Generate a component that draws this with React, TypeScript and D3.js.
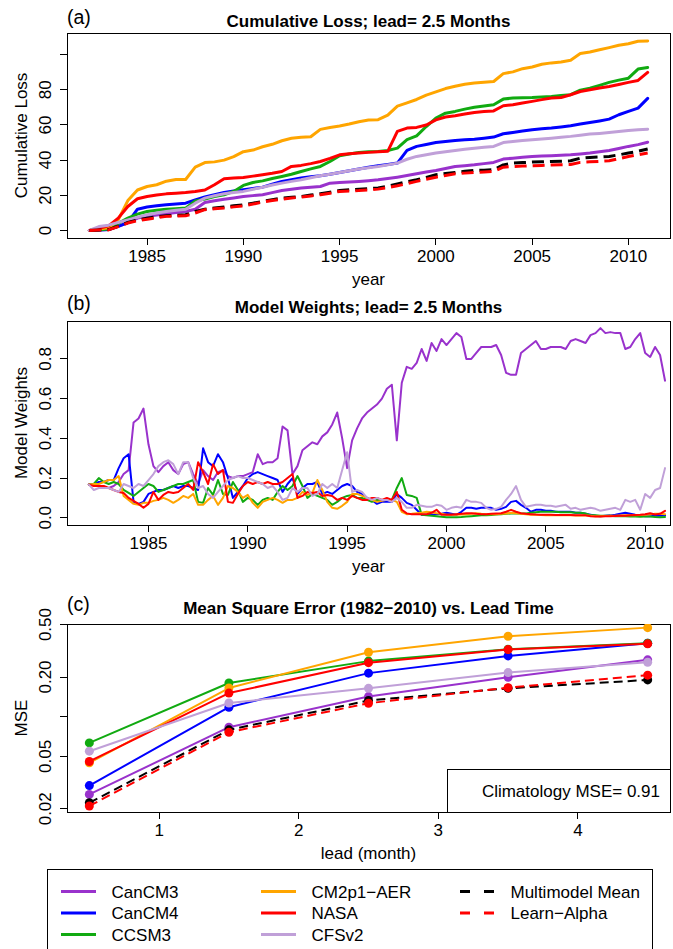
import React, { useEffect, useRef } from "react";
import * as d3 from "d3";

// series names, in legend order
const seriesNames = ["CanCM3", "CanCM4", "CCSM3", "CM2p1\u2212AER", "NASA", "CFSv2", "Multimodel Mean", "Learn\u2212Alpha"];
const seriesColors = ["#9932cc", "#0000ff", "#11aa11", "#ffa500", "#ff0000", "#c0a0d8", "#000000", "#ff0000"];
const seriesDashed = [false, false, false, false, false, false, true, true];

// (a) cumulative loss, sampled every half year 1982.0 .. 2011.0
const lossYears = d3.range(1982, 2011.001, 0.5);
const lossCanCM3 = [
  0, 0.3, 0.5, 2.3, 4.5, 7, 8, 8.8, 9.5, 10.2,
  10.8, 12.1, 15.9, 16.9, 17.8, 18.5, 19.3, 19.8, 20.3, 21.5,
  22.7, 23.4, 24.1, 24.6, 25, 26.9, 27.3, 27.6, 27.9, 28.3,
  28.8, 29.5, 30.3, 31.2, 32.2, 33.2, 34.1, 35.2, 36.4, 36.8,
  37.3, 38, 38.7, 40.6, 41.1, 41.6, 42.1, 42.3, 42.5, 42.7,
  43, 43.5, 44, 44.7, 45.5, 46.6, 47.8, 48.8, 50.2,
];
const lossCanCM4 = [
  0, 0.3, 0.5, 2.3, 4.5, 12.1, 13.3, 14, 14.6, 15,
  15.5, 17.4, 19, 20.3, 21.6, 22.4, 23.1, 23.9, 24.6, 26.3,
  27.9, 28.9, 29.8, 30.5, 31.1, 32, 33, 34, 34.9, 35.9,
  36.8, 37.5, 38.3, 45.5, 47.8, 48.9, 50, 50.6, 51.2, 51.6,
  51.9, 52.5, 53.1, 55, 55.7, 56.5, 57.3, 57.8, 58.2, 58.8,
  59.5, 60.5, 61.4, 62.3, 63.3, 65.8, 67.7, 69.6, 75.1,
];
const lossCCSM3 = [
  0, 0.4, 0.8, 4, 7, 9.3, 10.8, 11.5, 12.1, 12.4,
  12.7, 16.8, 17.8, 19.3, 20.3, 22.2, 25.6, 27.3, 28.2, 29.5,
  30.7, 32, 33.5, 35, 36.4, 39.2, 42.5, 43.5, 44.4, 44.7,
  44.9, 45.5, 46.8, 51.6, 53.8, 59.1, 63.9, 66.7, 67.7, 69,
  70.1, 70.8, 71.5, 74.7, 75.3, 75.5, 75.6, 75.9, 76.2, 76.7,
  77.2, 79.8, 80.9, 82.5, 84.2, 85.5, 86.6, 91.8, 92.7,
];
const lossCM2p1 = [
  0, 0.8, 1.5, 6, 17, 23, 25, 26, 28, 29,
  29, 36, 38.6, 39, 40, 42, 44.8, 45.7, 47.6, 49,
  51, 52.4, 53, 53.3, 57.5, 58.6, 59.4, 60.5, 61.8, 62.8,
  63, 65.6, 70.7, 72.6, 74.5, 77, 78.8, 80.7, 82, 83.2,
  83.9, 84.3, 84.7, 89.2, 90.2, 92, 93, 94.5, 95.3, 95.8,
  96.8, 100.6, 101.5, 102.8, 104, 105.3, 106.2, 107.6, 107.8,
];
const lossNASA = [
  0, 1.2, 2.6, 7, 13.6, 18, 19.3, 20.2, 20.8, 21.2,
  21.6, 22.2, 23, 26, 29.4, 29.8, 30.1, 30.9, 31.7, 32.5,
  33.5, 36.4, 37, 38, 39.2, 41, 43, 43.6, 44, 44.4,
  44.7, 45, 56.3, 58.2, 58.6, 60, 62.9, 64.5, 65.2, 66.2,
  67.1, 67.6, 68, 70.9, 71.5, 72.5, 73.4, 74.4, 75.3, 75.6,
  77.2, 79, 80, 81, 81.9, 83, 84.2, 85.3, 89.9,
];
const lossCFSv2 = [
  0, 2.2, 3, 4.5, 6, 7.5, 8.9, 9.9, 10.8, 11.5,
  12.1, 15.5, 18.4, 19.7, 20.9, 21.6, 22.2, 23.4, 24.6, 25.8,
  26.9, 27.9, 28.8, 30, 31.1, 32, 33, 34, 34.9, 35.7,
  36.4, 37.3, 38.3, 40.5, 42.1, 43, 44, 44.8, 45.5, 46.2,
  46.8, 47.3, 47.8, 50, 50.6, 51.1, 51.6, 52, 52.5, 53,
  53.5, 54.2, 54.8, 55.2, 55.7, 56.3, 56.9, 57.3, 57.6,
];
const lossMean = [
  0, 0.3, 0.5, 2.5, 4.5, 6, 7, 7.7, 8.3, 8.6,
  8.9, 10.8, 12.1, 12.7, 13.3, 14, 14.6, 15.5, 16.5, 17.5,
  18.4, 18.9, 19.3, 20.1, 20.9, 21.8, 22.7, 23.1, 23.5, 23.8,
  24.1, 25.2, 26.5, 27.7, 28.8, 30.2, 31.7, 32.4, 33, 33.6,
  34.1, 34.3, 34.5, 37.3, 38.3, 38.6, 38.9, 39, 39.2, 39.4,
  39.6, 41.1, 41.5, 41.8, 42.1, 43, 44, 45, 46.3,
];
const lossLearnAlpha = [
  0, 0.2, 0.3, 2.2, 4.2, 5.5, 6.4, 7.2, 8, 8.2,
  8.3, 9.9, 11.8, 12.3, 12.7, 13.4, 14, 15, 16.1, 17,
  17.8, 18.4, 19, 19.6, 20.3, 21.2, 22.2, 22.5, 22.7, 23.1,
  23.5, 24.4, 25.4, 26.6, 27.9, 29.1, 30.3, 31.2, 32.2, 32.6,
  33, 33.3, 33.6, 36, 36.4, 36.6, 36.8, 37, 37.2, 37.4,
  37.5, 38.7, 39, 39.3, 39.6, 40.8, 42.1, 43, 44,
];

// (b) model weights, sampled every quarter 1982.0 .. 2011.0
const weightYears = d3.range(1982, 2011.001, 0.25);
const weightCanCM3 = [
  0.167, 0.165, 0.16, 0.15, 0.15, 0.16, 0.18, 0.22,
  0.24, 0.48, 0.50, 0.55, 0.37, 0.26, 0.23, 0.26,
  0.28, 0.24, 0.22, 0.27, 0.28, 0.22, 0.17, 0.24,
  0.21, 0.19, 0.23, 0.24, 0.21, 0.20, 0.21, 0.21,
  0.22, 0.23, 0.32, 0.27, 0.28, 0.28, 0.30, 0.46,
  0.44, 0.22, 0.26, 0.34, 0.36, 0.38, 0.37, 0.41,
  0.43, 0.47, 0.53, 0.40, 0.25, 0.39, 0.45, 0.50,
  0.53, 0.55, 0.57, 0.60, 0.65, 0.67, 0.39, 0.68,
  0.76, 0.75, 0.78, 0.85, 0.79, 0.88, 0.84, 0.90,
  0.87, 0.90, 0.93, 0.91, 0.80, 0.80, 0.83, 0.86,
  0.86, 0.86, 0.87, 0.82, 0.73, 0.72, 0.72, 0.83,
  0.85, 0.87, 0.89, 0.85, 0.85, 0.86, 0.86, 0.86,
  0.85, 0.89, 0.90, 0.89, 0.88, 0.92, 0.93, 0.955,
  0.93, 0.935, 0.93, 0.93, 0.85, 0.86, 0.90, 0.93,
  0.83, 0.81, 0.86, 0.82, 0.69,
];
const weightCanCM4 = [
  0.167, 0.17, 0.18, 0.18, 0.19, 0.19, 0.25, 0.30,
  0.32, 0.08, 0.07, 0.08, 0.12, 0.13, 0.14, 0.14,
  0.15, 0.16, 0.15, 0.16, 0.16, 0.15, 0.14, 0.35,
  0.28, 0.26, 0.32, 0.28, 0.20, 0.10, 0.13, 0.16,
  0.20, 0.22, 0.23, 0.22, 0.21, 0.20, 0.19, 0.13,
  0.17, 0.20, 0.12, 0.15, 0.17, 0.17, 0.18, 0.12,
  0.13, 0.12, 0.14, 0.16, 0.17, 0.16, 0.13, 0.12,
  0.10, 0.09, 0.07, 0.08, 0.08, 0.08, 0.12, 0.10,
  0.075, 0.065, 0.04, 0.015, 0.015, 0.015, 0.018, 0.02,
  0.025, 0.02, 0.015, 0.03, 0.05, 0.05, 0.045, 0.05,
  0.05, 0.05, 0.04, 0.045, 0.055, 0.08, 0.085, 0.065,
  0.05, 0.03, 0.04, 0.04, 0.035, 0.035, 0.03, 0.03,
  0.03, 0.03, 0.025, 0.025, 0.02, 0.015, 0.01, 0.008,
  0.01, 0.012, 0.015, 0.02, 0.025, 0.02, 0.015, 0.012,
  0.008, 0.007, 0.01, 0.01, 0.012,
];
const weightCCSM3 = [
  0.167, 0.17, 0.20, 0.18, 0.17, 0.18, 0.17, 0.14,
  0.125, 0.11, 0.13, 0.15, 0.17, 0.16, 0.13, 0.14,
  0.15, 0.16, 0.17, 0.17, 0.18, 0.19, 0.08, 0.075,
  0.15, 0.115, 0.19, 0.12, 0.115, 0.18, 0.14, 0.08,
  0.10, 0.09, 0.065, 0.09, 0.10, 0.09, 0.13, 0.16,
  0.14, 0.16, 0.21, 0.16, 0.10, 0.12, 0.11, 0.10,
  0.09, 0.065, 0.08, 0.10, 0.11, 0.115, 0.10, 0.10,
  0.09, 0.08, 0.09, 0.09, 0.09, 0.09, 0.15, 0.20,
  0.115, 0.11, 0.10, 0.015, 0.012, 0.01, 0.008, 0.005,
  0.003, 0.003, 0.003, 0.004, 0.006, 0.008, 0.01, 0.012,
  0.012, 0.014, 0.016, 0.018, 0.02, 0.022, 0.023, 0.022,
  0.022, 0.025, 0.028, 0.03, 0.03, 0.03, 0.03, 0.028,
  0.028, 0.028, 0.025, 0.025, 0.022, 0.012, 0.012, 0.01,
  0.01, 0.01, 0.008, 0.007, 0.007, 0.006, 0.006, 0.005,
  0.006, 0.006, 0.004, 0.003, 0.004,
];
const weightCM2p1 = [
  0.167, 0.17, 0.17, 0.18, 0.19, 0.19, 0.21, 0.11,
  0.09, 0.07, 0.065, 0.075, 0.075, 0.085, 0.09, 0.10,
  0.09, 0.075, 0.09, 0.11, 0.10, 0.12, 0.065, 0.065,
  0.09, 0.11, 0.065, 0.10, 0.16, 0.15, 0.13, 0.10,
  0.115, 0.075, 0.05, 0.08, 0.09, 0.10, 0.09, 0.075,
  0.09, 0.09, 0.10, 0.13, 0.115, 0.125, 0.19, 0.14,
  0.08, 0.05, 0.045, 0.06, 0.08, 0.12, 0.12, 0.11,
  0.10, 0.09, 0.08, 0.085, 0.09, 0.09, 0.08, 0.03,
  0.018, 0.02, 0.023, 0.025, 0.03, 0.028, 0.023, 0.02,
  0.015, 0.015, 0.015, 0.016, 0.018, 0.02, 0.023, 0.02,
  0.018, 0.018, 0.018, 0.02, 0.022, 0.025, 0.023, 0.02,
  0.018, 0.015, 0.015, 0.014, 0.013, 0.013, 0.012, 0.012,
  0.012, 0.012, 0.011, 0.011, 0.011, 0.01, 0.008, 0.008,
  0.009, 0.01, 0.01, 0.011, 0.012, 0.012, 0.013, 0.014,
  0.015, 0.017, 0.02, 0.02, 0.018,
];
const weightNASA = [
  0.167, 0.16, 0.16, 0.16, 0.15, 0.14, 0.13, 0.125,
  0.10, 0.085, 0.07, 0.05, 0.07, 0.13, 0.09, 0.115,
  0.13, 0.125, 0.13, 0.15, 0.17, 0.14, 0.28, 0.23,
  0.17, 0.27, 0.22, 0.24, 0.08, 0.075, 0.12, 0.16,
  0.18, 0.17, 0.18, 0.17, 0.18, 0.17, 0.17, 0.18,
  0.20, 0.22, 0.10, 0.11, 0.13, 0.125, 0.13, 0.11,
  0.115, 0.11, 0.09, 0.10, 0.09, 0.11, 0.10, 0.09,
  0.09, 0.10, 0.10, 0.09, 0.10, 0.09, 0.13, 0.04,
  0.022, 0.018, 0.018, 0.018, 0.018, 0.025, 0.04, 0.015,
  0.015, 0.015, 0.018, 0.02, 0.023, 0.023, 0.02, 0.018,
  0.018, 0.02, 0.022, 0.023, 0.03, 0.04, 0.03, 0.023,
  0.02, 0.018, 0.016, 0.015, 0.015, 0.015, 0.014, 0.014,
  0.014, 0.014, 0.013, 0.013, 0.012, 0.008, 0.006, 0.006,
  0.007, 0.008, 0.009, 0.01, 0.01, 0.012, 0.014, 0.015,
  0.018, 0.023, 0.016, 0.02, 0.035,
];
const weightCFSv2 = [
  0.167, 0.14, 0.15, 0.15, 0.15, 0.14, 0.13, 0.17,
  0.16, 0.15, 0.17, 0.16, 0.19, 0.22, 0.26, 0.28,
  0.29, 0.27, 0.22, 0.28, 0.28, 0.20, 0.15, 0.16,
  0.12, 0.10, 0.13, 0.16, 0.19, 0.20, 0.21, 0.20,
  0.20, 0.19, 0.18, 0.17, 0.15, 0.16, 0.13, 0.09,
  0.10, 0.15, 0.13, 0.15, 0.15, 0.11, 0.12, 0.17,
  0.15, 0.17, 0.15, 0.24, 0.33, 0.13, 0.14, 0.13,
  0.10, 0.09, 0.10, 0.09, 0.09, 0.08, 0.10, 0.08,
  0.05, 0.05, 0.065, 0.06, 0.055, 0.055, 0.065, 0.06,
  0.04, 0.05, 0.055, 0.05, 0.09, 0.08, 0.08, 0.075,
  0.05, 0.04, 0.045, 0.055, 0.09, 0.12, 0.16, 0.09,
  0.055, 0.06, 0.065, 0.065, 0.06, 0.06, 0.055, 0.06,
  0.065, 0.045, 0.05, 0.04, 0.045, 0.05, 0.045, 0.035,
  0.04, 0.045, 0.05, 0.04, 0.09, 0.08, 0.09, 0.04,
  0.12, 0.10, 0.14, 0.15, 0.25,
];

// (c) mean square error vs lead time
const leadMonths = [0.5, 1.5, 2.5, 3.5, 4.5];
const mseCanCM3 = [0.0257, 0.0832, 0.142, 0.199, 0.27];
const mseCanCM4 = [0.030, 0.118, 0.214, 0.289, 0.361];
const mseCCSM3 = [0.0632, 0.180, 0.264, 0.325, 0.361];
const mseCM2p1 = [0.0446, 0.165, 0.308, 0.408, 0.474];
const mseNASA = [0.0457, 0.151, 0.257, 0.323, 0.357];
const mseCFSv2 = [0.0547, 0.127, 0.164, 0.216, 0.259];
const mseMean = [0.0222, 0.0794, 0.1326, 0.164, 0.19];
const mseLearnAlpha = [0.021, 0.0762, 0.1265, 0.166, 0.2065];
const climatologyMSE = 0.91;

const lossSeries = [lossCanCM3, lossCanCM4, lossCCSM3, lossCM2p1, lossNASA, lossCFSv2, lossMean, lossLearnAlpha];
const weightSeries = [weightCanCM3, weightCanCM4, weightCCSM3, weightCM2p1, weightNASA, weightCFSv2];
const mseSeries = [mseCanCM3, mseCanCM4, mseCCSM3, mseCM2p1, mseNASA, mseCFSv2, mseMean, mseLearnAlpha];

const yearTicks = [1985, 1990, 1995, 2000, 2005, 2010];

const FONT = "'Liberation Sans', Arial, Helvetica, sans-serif";
const LEFT = 67;
const RIGHT = 670;

const App = () => {
  const svgRef = useRef<SVGSVGElement | null>(null);

  useEffect(() => {
    document.body.style.margin = "0";
    const svg = d3.select(svgRef.current);
    svg.selectAll("*").remove();
    svg.attr("font-family", FONT).attr("font-size", 17).attr("fill", "#000");

    // box, ticks, labels and titles of one panel; returns a clipped group for the marks
    const panel = (cfg: any) => {
      const g = svg.append("g");
      g.append("rect")
        .attr("x", LEFT).attr("y", cfg.top)
        .attr("width", RIGHT - LEFT).attr("height", cfg.bottom - cfg.top)
        .attr("fill", "none").attr("stroke", "#000").attr("stroke-width", 1)
        .attr("shape-rendering", "crispEdges");

      cfg.yTicks.forEach((v: number, i: number) => {
        const yy = cfg.y(v);
        g.append("line")
          .attr("x1", LEFT - 7).attr("x2", LEFT).attr("y1", yy).attr("y2", yy)
          .attr("stroke", "#000").attr("shape-rendering", "crispEdges");
        if (cfg.yLabels[i]) {
          g.append("text")
            .attr("transform", `translate(${LEFT - 16},${yy}) rotate(-90)`)
            .attr("text-anchor", "middle")
            .text(cfg.yLabels[i]);
        }
      });

      cfg.xTicks.forEach((v: number) => {
        const xx = cfg.x(v);
        g.append("line")
          .attr("x1", xx).attr("x2", xx).attr("y1", cfg.bottom).attr("y2", cfg.bottom + 7)
          .attr("stroke", "#000").attr("shape-rendering", "crispEdges");
        g.append("text")
          .attr("x", xx).attr("y", cfg.bottom + 23.5)
          .attr("text-anchor", "middle")
          .text(String(v));
      });

      g.append("text")
        .attr("x", (LEFT + RIGHT) / 2).attr("y", cfg.bottom + 47)
        .attr("text-anchor", "middle")
        .text(cfg.xTitle);

      g.append("text")
        .attr("transform", `translate(27,${(cfg.top + cfg.bottom) / 2}) rotate(-90)`)
        .attr("text-anchor", "middle")
        .text(cfg.yTitle);

      g.append("text")
        .attr("x", (LEFT + RIGHT) / 2).attr("y", cfg.titleY)
        .attr("text-anchor", "middle")
        .attr("font-weight", "bold")
        .text(cfg.title);

      g.append("text")
        .attr("x", LEFT).attr("y", cfg.letterY)
        .attr("font-size", 19.5)
        .text(cfg.letter);

      svg.append("clipPath").attr("id", cfg.id)
        .append("rect")
        .attr("x", LEFT).attr("y", cfg.top)
        .attr("width", RIGHT - LEFT).attr("height", cfg.bottom - cfg.top);

      return svg.append("g").attr("clip-path", `url(#${cfg.id})`);
    };

    // ---- (a) cumulative loss ----
    const xA = d3.scaleLinear().domain([1980.84, 2012.16]).range([LEFT, RIGHT]);
    const yA = d3.scaleLinear().domain([-4.3, 112.3]).range([238, 33]);
    const gA = panel({
      id: "clipA", top: 33, bottom: 238, x: xA, y: yA,
      xTicks: yearTicks,
      yTicks: [0, 20, 40, 60, 80, 100],
      yLabels: ["0", "20", "40", "60", "80", ""],
      xTitle: "year", yTitle: "Cumulative Loss",
      title: "Cumulative Loss; lead= 2.5 Months", titleY: 26.5,
      letter: "(a)", letterY: 24,
    });
    const lineA = d3.line<number>()
      .x((_, i) => xA(lossYears[i]))
      .y((d) => yA(d));
    lossSeries.forEach((vals, k) => {
      gA.append("path")
        .attr("d", lineA(vals))
        .attr("fill", "none")
        .attr("stroke", seriesColors[k])
        .attr("stroke-width", 3)
        .attr("stroke-linejoin", "round")
        .attr("stroke-linecap", seriesDashed[k] ? "butt" : "round")
        .attr("stroke-dasharray", seriesDashed[k] ? "12,6" : null);
    });

    // ---- (b) model weights ----
    const xB = d3.scaleLinear().domain([1980.9, 2011.25]).range([LEFT, RIGHT]);
    const yB = d3.scaleLinear().domain([-0.0365, 0.991]).range([525, 321]);
    const gB = panel({
      id: "clipB", top: 321, bottom: 525, x: xB, y: yB,
      xTicks: yearTicks,
      yTicks: [0, 0.2, 0.4, 0.6, 0.8],
      yLabels: ["0.0", "0.2", "0.4", "0.6", "0.8"],
      xTitle: "year", yTitle: "Model Weights",
      title: "Model Weights; lead= 2.5 Months", titleY: 312.5,
      letter: "(b)", letterY: 310,
    });
    const lineB = d3.line<number>()
      .x((_, i) => xB(weightYears[i]))
      .y((d) => yB(d));
    weightSeries.forEach((vals, k) => {
      gB.append("path")
        .attr("d", lineB(vals))
        .attr("fill", "none")
        .attr("stroke", seriesColors[k])
        .attr("stroke-width", 2)
        .attr("stroke-linejoin", "round")
        .attr("stroke-linecap", "round");
    });

    // ---- (c) MSE vs lead ----
    const xC = d3.scaleLinear().domain([0.34, 4.66]).range([LEFT, RIGHT]);
    const yC = d3.scaleLog().domain([0.0189, 0.505]).range([812, 624]);
    const gC = panel({
      id: "clipC", top: 624, bottom: 812, x: xC, y: yC,
      xTicks: [1, 2, 3, 4],
      yTicks: [0.02, 0.05, 0.1, 0.2, 0.5],
      yLabels: ["0.02", "0.05", "", "0.20", "0.50"],
      xTitle: "lead (month)", yTitle: "MSE",
      title: "Mean Square Error (1982\u22122010) vs. Lead Time", titleY: 614,
      letter: "(c)", letterY: 611,
    });
    const lineC = d3.line<number>()
      .x((_, i) => xC(leadMonths[i]))
      .y((d) => yC(d));
    mseSeries.forEach((vals, k) => {
      gC.append("path")
        .attr("d", lineC(vals))
        .attr("fill", "none")
        .attr("stroke", seriesColors[k])
        .attr("stroke-width", 2)
        .attr("stroke-linejoin", "round")
        .attr("stroke-dasharray", seriesDashed[k] ? "9,5" : null);
      gC.selectAll(null)
        .data(vals)
        .enter()
        .append("circle")
        .attr("cx", (_, i) => xC(leadMonths[i]))
        .attr("cy", (d) => yC(d))
        .attr("r", 4.5)
        .attr("fill", seriesColors[k]);
    });

    // climatology box, bottom right
    svg.append("rect")
      .attr("x", 447).attr("y", 769)
      .attr("width", RIGHT - 447).attr("height", 812 - 769)
      .attr("fill", "#fff").attr("stroke", "#000")
      .attr("shape-rendering", "crispEdges");
    svg.append("text")
      .attr("x", 660).attr("y", 797)
      .attr("text-anchor", "end")
      .text(`Climatology MSE= ${climatologyMSE.toFixed(2)}`);

    // ---- legend ----
    const legend = svg.append("g");
    legend.append("rect")
      .attr("x", 47).attr("y", 869)
      .attr("width", 605).attr("height", 110)
      .attr("fill", "none").attr("stroke", "#000")
      .attr("shape-rendering", "crispEdges");
    const colX = [61, 261, 460];
    const rowY = [891.5, 913, 934.5];
    seriesNames.forEach((name, k) => {
      const col = Math.floor(k / 3);
      const row = k % 3;
      const x0 = colX[col];
      const y0 = rowY[row];
      legend.append("line")
        .attr("x1", x0).attr("x2", x0 + 35)
        .attr("y1", y0).attr("y2", y0)
        .attr("stroke", seriesColors[k])
        .attr("stroke-width", 3)
        .attr("stroke-dasharray", seriesDashed[k] ? "10,14" : null);
      legend.append("text")
        .attr("x", x0 + 50.5).attr("y", y0 + 6)
        .text(name);
    });
  }, []);

  return (
    <svg
      ref={svgRef}
      width={673}
      height={949}
      style={{ display: "block", position: "absolute", left: 0, top: 0, background: "#fff" }}
    ></svg>
  );
};

export default App;
